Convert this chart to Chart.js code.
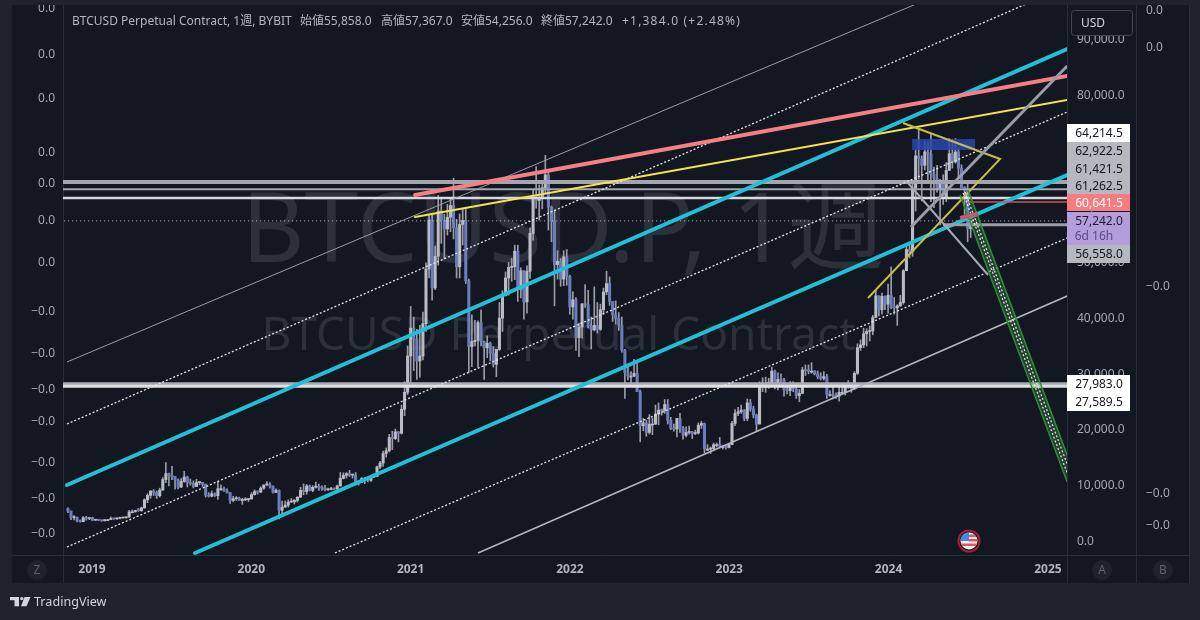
<!DOCTYPE html>
<html><head><meta charset="utf-8">
<style>html,body{margin:0;padding:0;background:#1e222d}canvas{display:block}</style>
<script src="https://cdn.jsdelivr.net/npm/chart.js@4/dist/chart.umd.js"></script>
</head><body><canvas id="c" width="1200" height="620"></canvas>
<script>
// weekly candles, first week Nov 2018
const opens=[5650,5200,4000,4050,3450,3300,4000,3850,
4000,3550,3600,3550,3450,3650,3650,3850,3800,3900,3950,3980,4100,5050,5050,5300,5250,5750,7200,8000,8750,8550,7950,8950,10850,11900,11500,11400,10800,9500,10500,11300,10300,10150,9600,10300,10350,10000,8050,7850,8300,7950,9200,9200,8800,8500,7100,7400,7500,7100,7200,7250,
7350,8150,8700,8600,9300,9900,9950,9650,8550,8900,5350,5900,6250,6800,6850,7100,7700,8900,8700,9700,8900,9450,9650,9350,9300,9000,9050,9200,9150,9700,11050,11600,11900,11650,11700,10250,10350,11050,10800,10700,11300,11400,13100,13800,15500,16000,18400,18200,19400,19150,23450,26500,
33000,38000,36000,32100,33000,38800,48600,57400,45200,50900,59000,57400,55800,57900,60000,56000,49000,56600,57300,46500,34700,35600,35800,39000,35600,34500,35300,33500,31500,34200,39800,43800,47000,48900,49000,51800,45000,48300,42700,48200,55000,61500,60900,61300,63200,65500,59700,57200,49400,50000,46800,50800,
47300,41800,43100,36300,38200,42400,42200,38400,37700,38500,37800,41300,44500,46000,42800,40400,39700,38500,34000,30000,29400,29400,29900,26600,20500,21000,19300,20800,20800,22600,23300,23200,24300,21500,20000,19900,21800,20100,18800,19300,19400,19100,19200,20600,20900,16300,16300,16400,17100,17100,16800,16800,
16600,17100,20900,22700,23000,23300,21800,24600,23500,22400,20800,27900,27400,28100,28300,30300,27600,28800,28700,26900,26800,28000,27100,25900,26300,30500,30400,30300,30300,29800,29300,29000,29300,26100,26100,25900,25800,26500,26500,28000,27900,27100,29900,34500,35000,37000,37400,37500,39900,43800,41300,43700,
42300,43900,41700,41600,42000,42600,48300,52100,51700,63100,68900,68400,67200,69600,69300,65600,64900,63100,64000,61500,66300,69300,67800,69600,66700,63200,62800,55858];
const highs=[5750,5200,4400,4150,3600,4200,4250,4000,
4100,3700,3650,3600,3700,3700,4150,3900,3950,4000,4050,4150,5300,5400,5350,5650,5900,7400,8300,8900,9050,8800,9300,11200,13880,12000,13200,11400,10950,11000,12300,11450,10950,10600,10900,10450,10350,10050,8500,8800,8450,10500,9900,9500,9200,8500,7850,7800,7700,7500,7600,7500,
8500,9000,8800,9550,9800,10500,10300,9700,9200,9000,7000,7000,7200,7450,7300,7750,9450,10050,9950,9850,9750,10400,10050,9700,9800,9300,9450,9300,9850,12100,12050,12100,12500,11800,12100,10700,11200,11200,10950,11450,11750,13250,14100,15950,16500,18950,19500,19900,19450,24200,28400,34800,
41900,40000,37800,38500,40900,49700,58300,58300,52700,61800,61200,58400,60200,61300,64900,57500,58500,59500,59500,46800,40400,39400,39300,41300,35700,36600,35500,34700,32500,42600,44700,48100,49800,50500,52900,52900,48800,48300,49200,56000,62900,67000,63700,64300,69000,66300,59900,59200,51900,50500,51900,52100,
47500,44500,43500,38900,41700,45800,44800,40000,45400,42600,42300,45200,48200,47200,42400,42900,40800,40000,34200,31400,30200,32400,31700,26900,21800,21500,22500,21900,24200,24600,23500,25200,25200,22000,20800,21800,22700,20400,20300,20450,19500,19700,21000,21300,21000,17100,16700,17400,17400,18400,17000,16900,
17200,21300,23400,23800,24200,23400,25300,25200,24000,22600,28400,29100,29200,29000,31000,30500,30000,29800,29000,28000,28400,28400,27400,27000,31000,31400,31400,31800,30400,30300,30000,30200,29700,26800,28100,26400,27400,27500,28000,28600,28000,30200,35200,35900,38000,37900,38400,40300,44700,43800,44300,43800,
45900,49000,43500,42200,43900,48500,52800,52900,64000,70000,73800,68900,71500,71300,72800,66900,67200,64700,65500,67700,72000,71900,72000,70200,67300,63400,63800,57367];
const lows=[4900,3650,3600,3250,3200,3250,3550,3650,
3500,3500,3450,3350,3400,3550,3650,3700,3700,3800,3900,3900,4100,4900,5000,5150,5150,5700,6700,7500,8000,7450,7700,8950,10300,9700,10800,9100,9150,9400,10350,9500,9850,9350,9600,9900,9600,7700,7700,7750,7800,7300,8900,8700,8400,6550,6850,7100,7100,6400,7050,6900,
7350,8050,8250,8500,9100,9700,9300,8400,8500,3800,4400,5850,5900,6750,6450,6800,7600,8100,8200,8800,8650,9300,8900,8900,8800,8900,9000,9000,9100,9650,10950,11100,11400,11100,9850,9850,10250,10100,10400,10500,11200,11350,12800,13200,14850,15800,16200,18000,17600,19000,22300,26100,
28000,30400,28800,29200,32300,37400,47000,43000,44900,49300,53200,50400,54700,55300,54000,47000,47000,52900,46000,30000,31100,34800,31000,34800,28800,32700,32100,31000,29300,34000,37400,43800,43900,46400,46700,42800,43400,39600,40700,46900,53800,59500,57400,59400,62200,55600,53500,42000,46800,45500,45600,45700,
40500,39600,34000,32900,36200,41700,38000,34300,37500,37100,37600,40500,44000,42100,39200,38700,37600,33700,25400,28700,28000,29300,26600,17600,19600,18600,19000,18900,20700,20700,22400,22700,20800,19800,19500,18500,19300,18100,18500,19000,18200,18900,19000,20000,15600,16000,15500,16000,16700,16500,16300,16300,
16500,17100,20500,22300,22700,21400,21400,23100,21900,19600,20800,26600,26500,27200,28200,27100,26900,27700,25800,26200,25900,26600,25400,24800,26300,29500,29800,29900,29600,28900,28700,28700,25400,25800,25300,25400,24900,26300,26000,27200,26500,27100,29700,34000,34500,34800,35700,36800,39900,40200,40500,41300,
40700,41500,40500,38500,41900,42300,48300,50600,50900,59000,64700,60800,66400,64500,60700,59600,62400,56500,60200,60700,66300,66700,67600,65000,63400,58400,53500,54256];
const closes=[5200,4000,4050,3450,3300,4000,3850,4000,
3550,3600,3550,3450,3650,3650,3850,3800,3900,3950,3980,4100,5050,5050,5300,5250,5750,7200,8000,8750,8550,7950,8950,10850,11900,11500,11400,10800,9500,10500,11300,10300,10150,9600,10300,10350,10000,8050,7850,8300,7950,9200,9200,8800,8500,7100,7400,7500,7100,7200,7250,7350,
8150,8700,8600,9300,9900,9950,9650,8550,8900,5350,5900,6250,6800,6850,7100,7700,8900,8700,9700,8900,9450,9650,9350,9300,9000,9050,9200,9150,9700,11050,11600,11900,11650,11700,10250,10350,11050,10800,10700,11300,11400,13100,13800,15500,16000,18400,18200,19400,19150,23450,26500,33000,
38000,36000,32100,33000,38800,48600,57400,45200,50900,59000,57400,55800,57900,60000,56000,49000,56600,57300,46500,34700,35600,35800,39000,35600,34500,35300,33500,31500,34200,39800,43800,47000,48900,49000,51800,45000,48300,42700,48200,55000,61500,60900,61300,63200,65500,59700,57200,49400,50000,46800,50800,47300,
41800,43100,36300,38200,42400,42200,38400,37700,38500,37800,41300,44500,46000,42800,40400,39700,38500,34000,30000,29400,29400,29900,26600,20500,21000,19300,20800,20800,22600,23300,23200,24300,21500,20000,19900,21800,20100,18800,19300,19400,19100,19200,20600,20900,16300,16300,16400,17100,17100,16800,16800,16600,
17100,20900,22700,23000,23300,21800,24600,23500,22400,20800,27900,27400,28100,28300,30300,27600,28800,28700,26900,26800,28000,27100,25900,26300,30500,30400,30300,30300,29800,29300,29000,29300,26100,26100,25900,25800,26500,26500,28000,27900,27100,29900,34500,35000,37000,37400,37500,39900,43800,41300,43700,42300,
43900,41700,41600,42000,42600,48300,52100,51700,63100,68900,68400,67200,69600,69300,65600,64900,63100,64000,61500,66300,69300,67800,69600,66700,63200,62800,55858,57242];

const firstWeek=2018.849, weeksPerYear=52.06;
const yearTicks=[2019,2020,2021,2022,2023,2024,2025];
const priceTicks=[0,10000,20000,30000,40000,50000,60000,70000,80000,90000];
const leftTicks=[95605,87354,79462,69776,64215,57578,50045,41256,33722,27265,21525,14170,7713,1435];
const leftLabels=["0.0","0.0","0.0","0.0","0.0","0.0","0.0","−0.0","−0.0","−0.0","−0.0","−0.0","−0.0","−0.0"];
const rightTicks=[95247,88610,45740,8610,2870];
const rightLabels=["0.0","0.0","−0.0","−0.0","−0.0"];

// drawn levels [price]
const levelsGrey=[64214.5,62922.5];
const levelsWhite=[61421.5,61262.5];
const levelsLow=[27983,27589.5];
const lastClose=57242;

// drawn trend lines: [year,price,year,price]
const cyanUpper=[2018.843,9865,2025.121,88072];
const cyanLower=[2019.647,-2332,2025.121,65471];
const pinkLine=[2021.028,61883,2025.121,83229];
const yellowLine=[2021.028,57937,2025.121,78924];
const thinUpper=[2018.843,31928,2024.173,96143];
const dotA=[2018.843,20807,2025.121,99372];
const dotB=[2018.843,-1256,2025.121,76771];
const dotC=[2020.525,-2332,2025.121,54170];
const thinLower=[2021.423,-2332,2025.121,43767];
const greyDiag=[2024.141,56143,2025.121,85022];
const crossDiag=[2024.122,64036,2024.625,47534];
const triangle=[[2024.091,74798],[2024.700,68341],[2023.871,43408]];
const pinkShort=[2024.449,57758,2024.556,58475];
const redLevel=[2024.493,60641.5,2025.121,60641.5];
const greyLevel=[2024.342,56558,2025.121,56558];
const blueBox=[2024.148,70942,2024.543,70942];
const greenLeft=[2024.449,61883,2025.121,10404];
const greenRight=[2024.499,62780,2025.121,15247];
const greenDotA=[2024.468,62242,2025.121,12018];
const greenDotB=[2024.480,62422,2025.121,13632];

const F='"Noto Sans","Noto Sans CJK JP",sans-serif';
const xOf=i=>firstWeek+i/weeksPerYear;
const seg=a=>[{x:a[0],y:a[1]},{x:a[2],y:a[3]}];
const level=v=>[{x:2018.7,y:v},{x:2025.3,y:v}];
const line=(data,color,width,extra,order)=>Object.assign({type:'line',data,borderColor:color,borderWidth:width,pointRadius:0,tension:0,yAxisID:'y',order:order||5,fill:false},extra||{});
const round={borderCapStyle:'round'};
const dots={borderDash:[2,2]};

const wickData=opens.map((_,i)=>({x:xOf(i),y:[lows[i],highs[i]]}));
const bodyData=opens.map((o,i)=>({x:xOf(i),y:[o,closes[i]]}));

const datasets=[
 {type:'bar',data:wickData,backgroundColor:'#9a9da8',barThickness:1,grouped:false,order:21,yAxisID:'y'},
 {type:'bar',data:bodyData,backgroundColor:c=>closes[c.dataIndex]>=opens[c.dataIndex]?'#b9bcc5':'#6b7dbd',barThickness:2.4,minBarLength:1,grouped:false,order:20,yAxisID:'y'},
 line(seg(blueBox),'rgba(41,72,176,0.85)',11,{borderCapStyle:'butt'},19),
 ...levelsGrey.map((v,i)=>line(level(v),'#a3a6af',i?2:4,null,12)),
 ...levelsWhite.map(v=>line(level(v),'#d6d8de',1.5,null,12)),
 line(level(levelsLow[0]),'#a8abb3',3.5,null,12),
 line(level(levelsLow[1]),'#dfe0e4',3,null,11),
 line(level(lastClose),'#c9c6d8',1,{borderDash:[1,3]},12),
 line(seg(thinUpper),'#9a9da6',1,null,10),
 line(seg(dotA),'#e6e7ea',1.3,dots,10),
 line(seg(dotB),'#e6e7ea',1.3,dots,10),
 line(seg(dotC),'#e6e7ea',1.3,dots,10),
 line(seg(thinLower),'#b2b5be',1.5,null,10),
 line(seg(cyanUpper),'#22c0d6',4,round,8),
 line(seg(cyanLower),'#22c0d6',4,round,8),
 line(seg(pinkLine),'#f47f84',4,round,7),
 line(seg(yellowLine),'#f6e24f',2,round,7),
 line(seg(greyDiag),'#9a9da6',3,null,6),
 line(seg(crossDiag),'#a6a9b2',2,null,6),
 line(triangle.map(p=>({x:p[0],y:p[1]})),'#c9bb4a',2,null,6),
 line(seg(greyLevel),'#9a9da6',3,null,6),
 line(seg(redLevel),'#c9545e',1.5,null,6),
 line(seg(greenLeft),'#2f8a3a',1.5,{fill:{target:'+1',above:'rgba(76,175,80,0.28)',below:'rgba(76,175,80,0.28)'}},4),
 line(seg(greenRight),'#2f8a3a',1.5,null,4),
 line(seg(greenDotA),'#e9efe9',1.2,dots,3),
 line(seg(greenDotB),'#e9efe9',1.2,dots,3),
 line(seg(pinkShort),'#c9566a',4,null,2)
];

const Y0=-2690.6, Y1=95964;
const tickFont={family:F,size:12};
const axisCol='#2a2e39', labelCol='#a4a7b0';
function setTicks(arr){return s=>{s.ticks=arr.map(v=>({value:v}));};}
function fitAxis(prop,size){return s=>{s[prop]=size;s.paddingTop=0;s.paddingBottom=0;s.paddingLeft=0;s.paddingRight=0;};}

const tags=[
 ["64,214.5",124,18,'#ffffff','#131722'],
 ["62,922.5",142,18,'#b6b8c0','#131722'],
 ["61,421.5",160,17,'#b6b8c0','#131722'],
 ["61,262.5",177,17,'#b6b8c0','#131722'],
 ["60,641.5",194,17,'#f77c80','#ffffff'],
 ["56,558.0",245,18,'#b6b8c0','#131722'],
 ["27,983.0",375,18,'#ffffff','#131722'],
 ["27,589.5",393,18,'#ffffff','#131722']
];
const headerParts=[['BTCUSD Perpetual Contract, 1週, BYBIT',72],['始値55,858.0',300],['高値57,367.0',381],['安値54,256.0',461],['終値57,242.0',541]];
const chrome={
 id:'chrome',
 beforeDraw(ch){const g=ch.ctx;g.save();
  g.fillStyle='#1e222d';g.fillRect(0,0,1200,620);
  g.fillStyle='#131722';g.fillRect(12,5,1177,578);
  g.strokeStyle=axisCol;g.lineWidth=1;g.beginPath();
  g.moveTo(12,555.5);g.lineTo(1189,555.5);
  [63.5,1067.5,1136.5].forEach(x=>{g.moveTo(x,5);g.lineTo(x,583);});
  g.moveTo(1189.5,5);g.lineTo(1189.5,583);
  g.stroke();g.restore();},
 beforeDatasetsDraw(ch){const g=ch.ctx;g.save();
  g.fillStyle='#2c303b';g.textBaseline='middle';g.textAlign='center';
  g.font='97px '+F;g.fillText('BTCUSD.P, 1週',563,234);
  g.font='46px '+F;g.fillText('BTCUSD Perpetual Contract',558.5,337);
  g.restore();},
 afterDraw(ch){const g=ch.ctx;g.save();
  g.fillStyle='#1e222d';g.fillRect(0,0,1200,5);
  g.textBaseline='middle';
  // header
  g.fillStyle='#b2b5be';g.font='12px '+F;g.textAlign='left';
  headerParts.forEach(p=>g.fillText(p[0],p[1],22));
  g.letterSpacing='1.2px';g.fillText('+1,384.0 (+2.48%)',622,22);g.letterSpacing='0px';
  // USD button
  g.fillStyle='#131722';g.strokeStyle='#434651';g.lineWidth=1;
  g.beginPath();g.roundRect(1071.5,10.5,61,25,3);g.fill();g.stroke();
  g.fillStyle='#d1d4dc';g.fillText('USD',1081,24);
  // price tags
  g.textAlign='center';
  tags.forEach(t=>{g.fillStyle=t[3];g.fillRect(1067,t[1],63,t[2]);g.fillStyle=t[4];g.fillText(t[0],1099,t[1]+t[2]/2+1);});
  g.fillStyle='#b39ddb';g.fillRect(1067,212,63,33);
  g.fillStyle='#1f1a33';g.fillText('57,242.0',1099,222);
  g.fillStyle='#5b4a86';g.fillText('6d 16h',1094,237);
  // corner buttons
  [['Z',37],['A',1102],['B',1163]].forEach(b=>{g.fillStyle='#1e222d';g.beginPath();g.arc(b[1],570,10,0,7);g.fill();g.fillStyle='#5d606b';g.fillText(b[0],b[1],571);});
  // flag
  g.fillStyle='#a51f34';g.beginPath();g.arc(969,541,11.5,0,7);g.fill();
  g.fillStyle='#10131c';g.beginPath();g.arc(969,541,9.5,0,7);g.fill();
  g.save();g.beginPath();g.arc(969,541,8.5,0,7);g.clip();
  g.fillStyle='#f2eff0';g.fillRect(960,532,18,18);
  g.fillStyle='#e25563';g.fillRect(969,534.5,9,2.5);g.fillRect(969,539,9,2.5);g.fillRect(960,543.5,18,2.5);
  g.fillStyle='#3d8bf0';g.fillRect(960,532,9,9);
  g.restore();
  // footer logo
  g.fillStyle='#d1d4dc';g.fillRect(10,597,9,3.2);g.fillRect(14.5,600,4.5,6.3);
  g.beginPath();g.arc(21.8,598.6,1.7,0,7);g.fill();
  g.beginPath();g.moveTo(24.5,597);g.lineTo(30.5,597);g.lineTo(26.5,606.3);g.lineTo(21,606.3);g.fill();
  g.textAlign='left';g.font='12.6px '+F;g.fillText('TradingView',34,602);
  g.restore();}
};

new Chart(document.getElementById('c'),{
 type:'bar',
 data:{datasets},
 plugins:[chrome],
 options:{
  responsive:false,animation:false,devicePixelRatio:1,
  events:[],
  layout:{padding:{left:12,right:11,top:5,bottom:37}},
  plugins:{legend:{display:false},tooltip:{enabled:false},title:{display:false}},
  scales:{
   x:{type:'linear',offset:false,min:2018.818,max:2025.12,
    afterBuildTicks:setTicks(yearTicks),
    afterFit:fitAxis('height',28),
    grid:{display:false,drawTicks:false},border:{display:false},
    ticks:{autoSkip:false,maxRotation:0,padding:7,color:'#b2b5be',font:{family:F,size:12,weight:'bold'},callback:v=>String(v)}},
   yL:{position:'left',min:Y0,max:Y1,
    afterBuildTicks:setTicks(leftTicks),
    afterFit:fitAxis('width',51),
    grid:{display:false,drawTicks:false},border:{display:false},
    ticks:{autoSkip:false,padding:8,labelOffset:1.5,color:labelCol,font:tickFont,callback:(v,i)=>leftLabels[i]}},
   y:{position:'right',min:Y0,max:Y1,
    afterBuildTicks:setTicks(priceTicks),
    afterFit:fitAxis('width',69),
    grid:{display:false,drawTicks:false},border:{display:false},
    ticks:{autoSkip:false,padding:10,labelOffset:1.5,color:labelCol,font:tickFont,callback:v=>v.toLocaleString('en-US',{minimumFractionDigits:1})}},
   yB:{position:'right',min:Y0,max:Y1,
    afterBuildTicks:setTicks(rightTicks),
    afterFit:fitAxis('width',53),
    grid:{display:false,drawTicks:false},border:{display:false},
    ticks:{autoSkip:false,padding:10,labelOffset:1.5,color:labelCol,font:tickFont,callback:(v,i)=>rightLabels[i]}}
  }
 }
});
</script></body></html>
